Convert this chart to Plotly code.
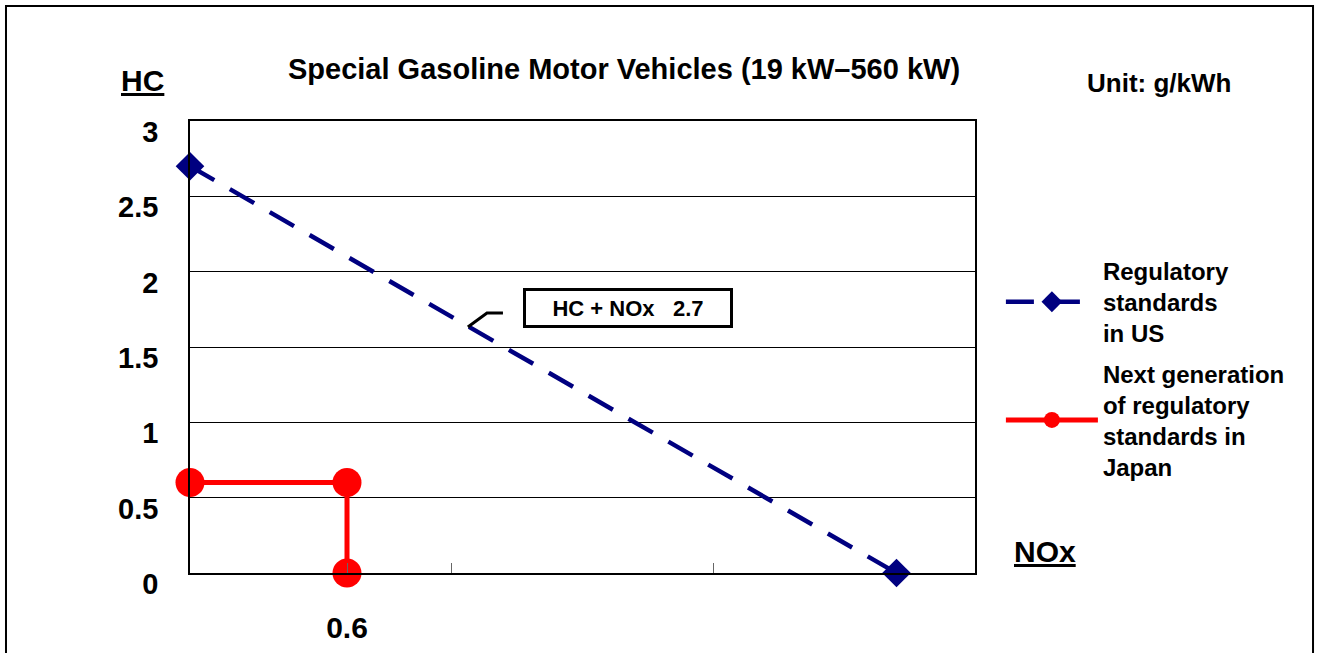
import plotly.graph_objects as go

# Data
us_nox = [0, 2.7]
us_hc = [2.7, 0]
jp_nox = [0, 0.6, 0.6]
jp_hc = [0.6, 0.6, 0]
y_ticks = [0, 0.5, 1, 1.5, 2, 2.5, 3]
x_ticks = [0.6, 1, 2]
x_ticktext = ["0.6", "", ""]
label_total = "HC + NOx&nbsp;&nbsp; 2.7"

FONT = "Liberation Sans, Arial, sans-serif"

fig = go.Figure()
fig.add_trace(go.Scatter(
    x=us_nox, y=us_hc, mode="lines+markers",
    name="Regulatory<br>standards<br>in US",
    line=dict(color="#000080", width=4.5, dash="28px,18px"),
    marker=dict(symbol="diamond", size=22, color="#000080"),
    cliponaxis=False, legendgroup="us",
))
fig.add_trace(go.Scatter(
    x=jp_nox, y=jp_hc, mode="lines+markers",
    name="Next generation<br>of regulatory<br>standards in<br>Japan",
    line=dict(color="#ff0000", width=5),
    marker=dict(symbol="circle", size=29, color="#ff0000"),
    cliponaxis=False, legendgroup="jp",
))

fig.update_layout(
    width=1318, height=653,
    margin=dict(l=190, r=343, t=121, b=80, autoexpand=False),
    paper_bgcolor="white", plot_bgcolor="white",
    font=dict(family=FONT, color="black"),
    showlegend=True,
    legend=dict(
        x=1.033, y=0.718, xanchor="left", yanchor="top",
        font=dict(size=24, family=FONT, weight="bold", color="black"),
        tracegroupgap=6, itemwidth=92, bgcolor="rgba(0,0,0,0)",
    ),
    xaxis=dict(
        range=[0, 3], tickvals=x_ticks, ticktext=x_ticktext,
        ticks="inside", ticklen=10, tickcolor="#666666", tickwidth=1,
        showgrid=False, zeroline=False, automargin=False,
        showline=True, linecolor="black", linewidth=1.5, mirror=True,
        tickfont=dict(size=30, family=FONT, weight="bold"),
        ticklabelstandoff=27,
    ),
    yaxis=dict(
        range=[0, 3], tickvals=y_ticks, ticks="",
        showgrid=True, gridcolor="black", gridwidth=1,
        zeroline=False, automargin=False,
        showline=True, linecolor="black", linewidth=1.5, mirror=True,
        tickfont=dict(size=29, family=FONT, weight="bold"),
        ticklabelstandoff=24, ticklabelshift=11,
    ),
)

anns = [
    dict(text="Special Gasoline Motor Vehicles (19 kW\u2013560 kW)",
         x=0.5529, y=1.115, size=29, lp="none"),
    dict(text="Unit: g/kWh", x=1.2344, y=1.084, size=26, lp="none"),
    dict(text="HC", x=-0.0599, y=1.0907, size=30, lp="under"),
    dict(text="NOx", x=1.0892, y=0.0465, size=30, lp="under"),
]
for a in anns:
    fig.add_annotation(
        text=a["text"], x=a["x"], y=a["y"], xref="paper", yref="paper",
        xanchor="center", yanchor="middle", showarrow=False,
        font=dict(size=a["size"], family=FONT, weight="bold", color="black",
                  lineposition=a["lp"]),
    )

fig.add_annotation(
    text=label_total, x=1.674, y=1.759, xref="x", yref="y",
    showarrow=False, xanchor="center", yanchor="middle",
    font=dict(size=22, family=FONT, weight="bold", color="black"),
    bordercolor="black", borderwidth=3, borderpad=4, bgcolor="white",
    width=196, height=26,
)

# leader line from the label box to the US line
fig.add_shape(type="path", xref="x", yref="y",
              path="M 1.196,1.726 L 1.135,1.726 L 1.062,1.633",
              line=dict(color="black", width=3))

# outer frame
fig.add_shape(type="rect", xref="paper", yref="paper",
              x0=-0.2344, x1=1.4306, y0=-0.3, y1=1.2544,
              line=dict(color="black", width=2), layer="below")

fig.write_html("out.html", config={"displayModeBar": False},
               post_script="document.body.style.margin='0';document.body.style.overflow='hidden';")
